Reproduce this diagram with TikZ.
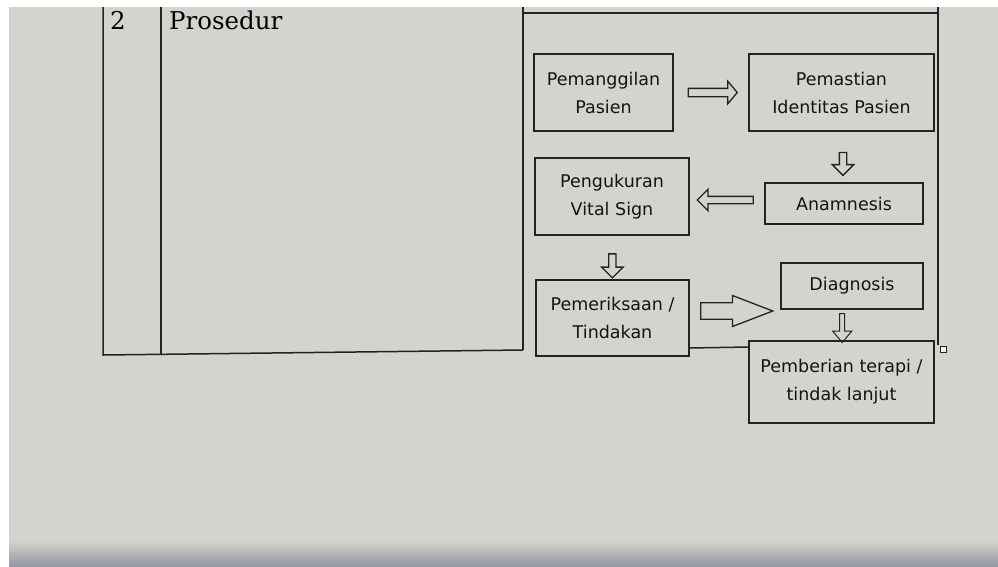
\documentclass[tikz,border=0pt]{standalone}
\usepackage{fontspec}
\setmainfont{DejaVu Sans}
\newfontfamily\tablefont{DejaVu Serif}
\usetikzlibrary{shapes.arrows,calc}
\definecolor{screengray}{RGB}{212,212,206}
\definecolor{screenedge}{RGB}{150,152,162}
\definecolor{inkline}{RGB}{35,35,35}
\begin{document}
\begin{tikzpicture}[x=1pt,y=-1pt]
\tikzstyle{stepbox} = [rectangle, draw=inkline, line width=1.3pt, align=center, font=\fontsize{17.5}{28}\selectfont, text=black!92]
\tikzstyle{blockarrow} = [single arrow, draw=inkline, line width=1.3pt, single arrow head indent=0pt]
\tikzstyle{flatarrow} = [blockarrow, inner xsep=0pt]
\tikzstyle{downarrow} = [blockarrow, inner ysep=0pt, shape border rotate=270]

% screen photo background
\fill[screengray] (0,0) rectangle (998,566);
\shade[top color=screengray, bottom color=screenedge] (9,540) rectangle (998,566);
\fill[white] (0,0) rectangle (998,7);
\fill[white] (0,0) rectangle (9,566);
\useasboundingbox (0,0) rectangle (998,566);

% table lines
\draw[inkline, line width=1.5pt] (103,7) -- (103,355) -- (523,350);
\draw[inkline, line width=1.5pt] (161,7) -- (161,355);
\draw[inkline, line width=1.5pt] (523,7) -- (523,350);
\draw[inkline, line width=1.5pt] (523,13) -- (938,13);
\draw[inkline, line width=1.5pt] (938,7) -- (938,345);
\draw[inkline, line width=1.5pt] (689,348) -- (749,347);
\draw[inkline, line width=0.7pt, fill=white!70!screengray] (940,346) rectangle (946,352);
\node(number) [font=\tablefont\fontsize{24.5}{26}\selectfont, anchor=base] at (118,29) {2};
\node(title) [font=\tablefont\fontsize{24.5}{26}\selectfont, anchor=base west, inner sep=0pt] at (169,29) {Prosedur};

% flow boxes
\node(pemanggilan) [stepbox, minimum width=139, minimum height=77] at (603.5,92.5) {Pemanggilan\\Pasien};
\node(pemastian) [stepbox, minimum width=185, minimum height=77] at (841.5,92.5) {Pemastian\\Identitas Pasien};
\node(pengukuran) [stepbox, minimum width=154, minimum height=77] at (612,196.5) {Pengukuran\\Vital Sign};
\node(anamnesis) [stepbox, minimum width=158, minimum height=41] at (844,203.5) {Anamnesis};
\node(pemeriksaan) [stepbox, minimum width=153, minimum height=76] at (612.5,318) {Pemeriksaan /\\Tindakan};
\node(diagnosis) [stepbox, minimum width=142, minimum height=46] at (852,286) {Diagnosis};
\node(pemberian) [stepbox, minimum width=185, minimum height=82] at (841.5,382) {Pemberian terapi /\\tindak lanjut};

% block arrows between the boxes
\node(arrowA) [flatarrow, inner ysep=3.5pt, minimum height=49, minimum width=17, single arrow tip angle=100]
  at ($(pemanggilan.east)!0.5!(pemastian.west)$) {};
\node(arrowB) [downarrow, inner xsep=3pt, minimum height=23, minimum width=13, single arrow tip angle=90]
  at ($(pemastian.south)!0.6!(anamnesis.north)$) {};
\node(arrowC) [flatarrow, inner ysep=3pt, minimum height=56, minimum width=15, single arrow tip angle=90, shape border rotate=180]
  at ($(anamnesis.west)!0.5!(pengukuran.east)$) {};
\node(arrowD) [downarrow, inner xsep=3pt, minimum height=24, minimum width=13, single arrow tip angle=90]
  at ($(pengukuran.south)!0.65!(pemeriksaan.north)$) {};
\node(arrowE) [flatarrow, inner ysep=7.5pt, minimum height=72, minimum width=31, single arrow tip angle=42]
  at ($(pemeriksaan.east)!0.5!(diagnosis.west)+(-9,9)$) {};
\node(arrowF) [downarrow, line width=1pt, inner xsep=2pt, minimum height=29, minimum width=9, single arrow tip angle=80]
  at ($(diagnosis.south)!0.55!(pemberian.north)+(-4,0)$) {};
\end{tikzpicture}
\end{document}
